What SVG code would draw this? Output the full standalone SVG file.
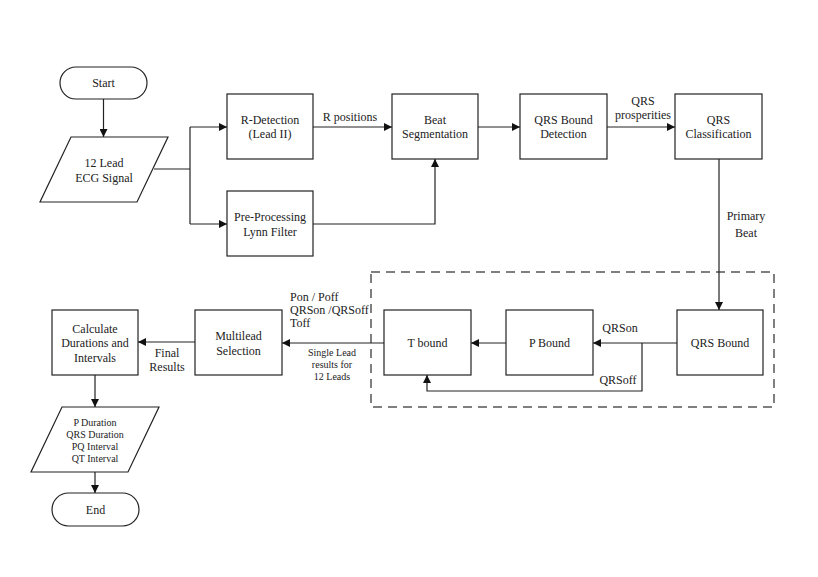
<svg xmlns="http://www.w3.org/2000/svg" width="818" height="577" viewBox="0 0 818 577">
<style>
.b{fill:#fff;stroke:#222;stroke-width:1.2}
.t{font-family:'Liberation Serif','DejaVu Serif','Times New Roman',serif;font-size:12px;fill:#222;text-anchor:middle}
.s{font-size:10px}
.l{text-anchor:start}
.c{fill:none;stroke:#222;stroke-width:1.2}
.d{fill:none;stroke:#555;stroke-width:1.5;stroke-dasharray:9 6}
</style>
<defs>
<marker id="a" viewBox="0 0 10 10" refX="10" refY="5" markerWidth="8" markerHeight="8" markerUnits="userSpaceOnUse" orient="auto">
<path d="M0,0 L10,5 L0,10 z" fill="#111"/>
</marker>
</defs>
<rect width="818" height="577" fill="#fff"/>
<g id="group-box"><rect class="d" x="371" y="272" width="403" height="135"/></g>
<g id="connectors">
<path class="c" d="M103.5,99 V137" marker-end="url(#a)"/>
<path class="c" d="M154,169 H190"/>
<path class="c" d="M190,127 V224"/>
<path class="c" d="M190,127 H227" marker-end="url(#a)"/>
<path class="c" d="M190,224 H227" marker-end="url(#a)"/>
<path class="c" d="M313,127 H392" marker-end="url(#a)"/>
<path class="c" d="M313,224 H435 V159" marker-end="url(#a)"/>
<path class="c" d="M478,127 H520" marker-end="url(#a)"/>
<path class="c" d="M607,127 H675" marker-end="url(#a)"/>
<path class="c" d="M719,159 V310" marker-end="url(#a)"/>
<path class="c" d="M677,343 H593" marker-end="url(#a)"/>
<path class="c" d="M642,343 V391 H427 V375" marker-end="url(#a)"/>
<path class="c" d="M506,343 H471" marker-end="url(#a)"/>
<path class="c" d="M384,343 H282" marker-end="url(#a)"/>
<path class="c" d="M195,342 H138" marker-end="url(#a)"/>
<path class="c" d="M95,375 V407" marker-end="url(#a)"/>
<path class="c" d="M95,472 V493" marker-end="url(#a)"/>
</g>
<g id="labels">
<text class="t" x="350" y="121">R positions</text>
<text class="t" x="643" y="105">QRS</text>
<text class="t" x="643" y="119">prosperities</text>
<text class="t" x="746" y="220">Primary</text>
<text class="t" x="746" y="237">Beat</text>
<text class="t" x="620" y="332">QRSon</text>
<text class="t" x="618" y="384">QRSoff</text>
<text class="t l" x="290" y="301" font-size="11">Pon / Poff</text>
<text class="t l" x="290" y="314" font-size="11">QRSon /QRSoff</text>
<text class="t l" x="290" y="327" font-size="11">Toff</text>
<text class="t s" x="332" y="356">Single Lead</text>
<text class="t s" x="332" y="368">results for</text>
<text class="t s" x="332" y="380">12 Leads</text>
<text class="t" x="167" y="357">Final</text>
<text class="t" x="167" y="371">Results</text>
</g>
<g id="start"><rect class="b" x="60" y="67" width="87" height="32" rx="16"/><text class="t" x="103.5" y="87">Start</text></g>
<g id="ecg-signal"><polygon class="b" points="71,137 168,137 137,202 40,202"/><text class="t" x="104" y="167">12 Lead</text><text class="t" x="104" y="182">ECG Signal</text></g>
<g id="r-detection"><rect class="b" x="227" y="94" width="86" height="65"/><text class="t" x="270" y="124">R-Detection</text><text class="t" x="270" y="138">(Lead II)</text></g>
<g id="pre-processing"><rect class="b" x="227" y="191" width="86" height="65"/><text class="t" x="270" y="221">Pre-Processing</text><text class="t" x="270" y="236">Lynn Filter</text></g>
<g id="beat-segmentation"><rect class="b" x="392" y="94" width="86" height="65"/><text class="t" x="435" y="124">Beat</text><text class="t" x="435" y="138">Segmentation</text></g>
<g id="qrs-bound-detection"><rect class="b" x="520" y="94" width="87" height="65"/><text class="t" x="563.5" y="124">QRS Bound</text><text class="t" x="563.5" y="138">Detection</text></g>
<g id="qrs-classification"><rect class="b" x="675" y="94" width="87" height="65"/><text class="t" x="718.5" y="124">QRS</text><text class="t" x="718.5" y="138">Classification</text></g>
<g id="qrs-bound"><rect class="b" x="677" y="310" width="86" height="65"/><text class="t" x="720" y="347">QRS Bound</text></g>
<g id="p-bound"><rect class="b" x="506" y="310" width="87" height="65"/><text class="t" x="549.5" y="347">P Bound</text></g>
<g id="t-bound"><rect class="b" x="384" y="310" width="87" height="65"/><text class="t" x="427.5" y="347">T bound</text></g>
<g id="multilead"><rect class="b" x="195" y="310" width="87" height="65"/><text class="t" x="238.5" y="340">Multilead</text><text class="t" x="238.5" y="355">Selection</text></g>
<g id="calculate"><rect class="b" x="52" y="310" width="86" height="65"/><text class="t" x="95" y="333">Calculate</text><text class="t" x="95" y="347">Durations and</text><text class="t" x="95" y="362">Intervals</text></g>
<g id="results"><polygon class="b" points="62,407 159,407 128,472 31,472"/><text class="t s" x="95" y="426">P Duration</text><text class="t s" x="95" y="438">QRS Duration</text><text class="t s" x="95" y="450">PQ Interval</text><text class="t s" x="95" y="462">QT Interval</text></g>
<g id="end"><rect class="b" x="52" y="493" width="87" height="33" rx="16.5"/><text class="t" x="95.5" y="514">End</text></g>
</svg>
